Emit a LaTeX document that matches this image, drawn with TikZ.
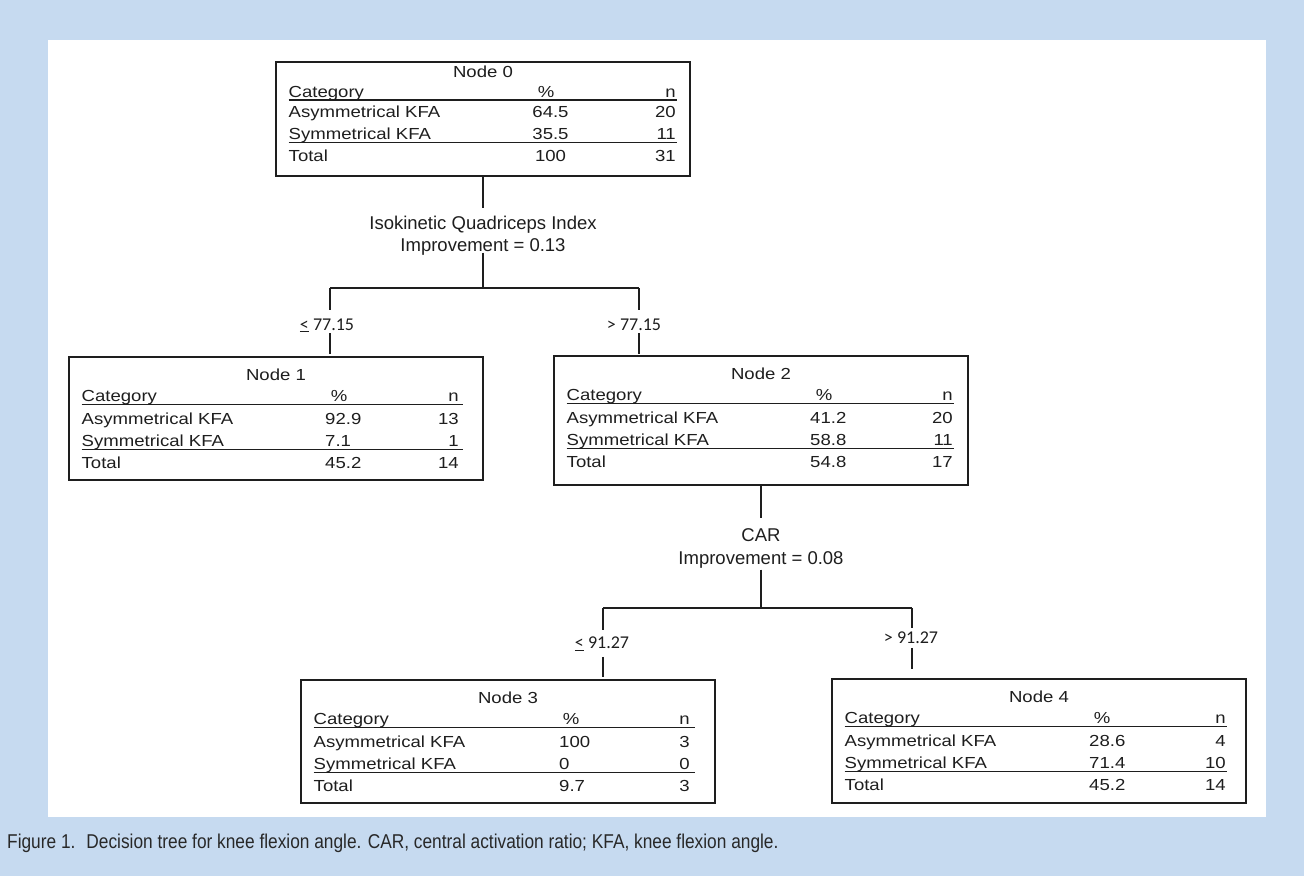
\documentclass[tikz,border=0pt]{standalone}
\usepackage{fontspec}
\setmainfont{Liberation Sans}
\newfontfamily\tabfont[FakeStretch=1.16]{Liberation Sans}
\newfontfamily\capfont[FakeStretch=0.865]{Liberation Sans}
\newfontfamily\condfont{Carlito}
\definecolor{bgblue}{RGB}{198,218,240}
\definecolor{ink}{RGB}{30,30,30}
\definecolor{capink}{RGB}{40,40,40}

\newcommand\TblOffsets[7]{\def\oT{#1}\def\oC{#2}\def\oU{#3}\def\oA{#4}\def\oS{#5}\def\oV{#6}\def\oX{#7}}
\newcommand\PctCenter[1]{\def\Pa{mid}\def\Px{#1}}
\newcommand\PctLeft[1]{\def\Pa{mid west}\def\Px{#1}}
\newcommand\TblBox[7]{\def\Tn{#1}\def\Tx{#2}\def\Ty{#3}\def\Th{#4}\def\Tt{#5}\def\Nr{#6}\def\Ur{#7}}
\newcommand\TblData[6]{%
  \begin{scope}[shift={(\Tx,\Ty)}]
    \node[frame, minimum height=\Th pt] (\Tn) at (0,0) {};
    \node[cell, anchor=mid] (\Tn-t) at (207,\oT) {\Tt};
    \node[cell, anchor=mid west] (\Tn-c) at (12.5,\oC) {Category};
    \node[cell, anchor=mid] (\Tn-p) at (270,\oC) {\%};
    \node[cell, anchor=mid east] (\Tn-n) at (\Nr,\oC) {n};
    \draw[rulel] (12.5,\oU) -- (\Ur,\oU);
    \node[cell, anchor=mid west] (\Tn-a) at (12.5,\oA) {Asymmetrical KFA};
    \node[cell, anchor=\Pa] (\Tn-ap) at (\Px,\oA) {#1};
    \node[cell, anchor=mid east] (\Tn-an) at (\Nr,\oA) {#2};
    \node[cell, anchor=mid west] (\Tn-s) at (12.5,\oS) {Symmetrical KFA};
    \node[cell, anchor=\Pa] (\Tn-sp) at (\Px,\oS) {#3};
    \node[cell, anchor=mid east] (\Tn-sn) at (\Nr,\oS) {#4};
    \draw[rulel] (12.5,\oV) -- (\Ur,\oV);
    \node[cell, anchor=mid west] (\Tn-x) at (12.5,\oX) {Total};
    \node[cell, anchor=\Pa] (\Tn-xp) at (\Px,\oX) {#5};
    \node[cell, anchor=mid east] (\Tn-xn) at (\Nr,\oX) {#6};
  \end{scope}}

\begin{document}
\begin{tikzpicture}[x=1pt,y=-1pt,
  frame/.style={draw=ink, line width=1.3pt, inner sep=0pt, outer sep=0pt, minimum width=414pt, anchor=north west},
  cell/.style={inner sep=0pt, text=ink, font=\tabfont\fontsize{16}{19}\selectfont},
  rulel/.style={draw=ink, line width=1.2pt},
  conn/.style={draw=ink, line width=1.1pt},
  splitlab/.style={inner sep=0pt, align=center, text=ink, anchor=north},
  condlab/.style={inner sep=0pt, text=ink, anchor=base, text height=11.5pt, text depth=2pt, font=\condfont\fontsize{18}{22}\selectfont},
  captext/.style={inner sep=0pt, text=capink, anchor=base west, font=\capfont\fontsize{20}{24}\selectfont}]
\useasboundingbox (0,0) rectangle (1304,876);
\fill[bgblue] (0,0) rectangle (1304,876);
\fill[white] (48,40) rectangle (1266,817);

% tables
\TblOffsets{13}{33}{38}{53}{74.5}{80.5}{97}
\PctCenter{274.5}
\TblBox{n0}{276}{62}{114}{Node 0}{400}{401}
\TblData{64.5}{20}{35.5}{11}{100}{31}

\TblOffsets{21}{41.5}{47.5}{64.5}{87}{92.5}{109}
\PctLeft{256}
\TblBox{n1}{69}{357}{123}{Node 1}{390}{394}
\TblData{92.9}{13}{7.1}{1}{45.2}{14}

\PctLeft{256}
\TblBox{n2}{554}{356}{129}{Node 2}{399}{400}
\TblData{41.2}{20}{58.8}{11}{54.8}{17}

\PctLeft{258}
\TblBox{n3}{301}{680}{123}{Node 3}{389}{394}
\TblData{100}{3}{0}{0}{9.7}{3}

\PctLeft{257}
\TblBox{n4}{832}{679}{124}{Node 4}{394}{395}
\TblData{28.6}{4}{71.4}{10}{45.2}{14}

% first split
\node[splitlab, font=\fontsize{18.5}{22}\selectfont] (s0) at (483,216) {Isokinetic Quadriceps Index\\Improvement = 0.13};
\coordinate (hl0) at (330,288);
\coordinate (hr0) at (639,288);
\draw[conn] (n0.south) -- ([yshift=8pt]s0.north);
\draw[conn] ([yshift=3pt]s0.south) -- (s0.south |- hl0);
\draw[conn] (hl0) -- (hr0);
\node[condlab] (c1) at (327,330) {\underline{<} 77.15};
\node[condlab] (c2) at (634,330) {> 77.15};
\draw[conn] (hl0) -- ([yshift=8.5pt]c1.north -| hl0);
\draw[conn] ([yshift=-1pt]c1.south -| hl0) -- ([yshift=3pt]hl0 |- n1.north);
\draw[conn] (hr0) -- ([yshift=8.5pt]c2.north -| hr0);
\draw[conn] ([yshift=-1pt]c2.south -| hr0) -- ([yshift=2pt]hr0 |- n2.north);

% second split
\node[splitlab, font=\fontsize{18.5}{23}\selectfont] (s1) at (761,528.5) {CAR\\Improvement = 0.08};
\coordinate (hl1) at (603,608);
\coordinate (hr1) at (912,608);
\draw[conn] (n2.south) -- ([yshift=11pt]s1.north);
\draw[conn] ([yshift=-1pt]s1.south) -- (s1.south |- hl1);
\draw[conn] (hl1) -- (hr1);
\node[condlab] (c3) at (602,648.7) {\underline{<} 91.27};
\node[condlab] (c4) at (911,643.7) {> 91.27};
\draw[conn] (hl1) -- ([yshift=7pt]c3.north -| hl1);
\draw[conn] ([yshift=-6pt]c3.south -| hl1) -- ([yshift=3pt]hl1 |- n3.north);
\draw[conn] (hr1) -- ([yshift=4pt]c4.north -| hr1);
\draw[conn] ([yshift=-2pt]c4.south -| hr1) -- ([yshift=10pt]hr1 |- n4.north);

% caption
\node[captext] (cap) at (7,848) {Figure 1.\hspace{0.55em}Decision tree for knee flexion angle. CAR, central activation ratio; KFA, knee flexion angle.};
\end{tikzpicture}
\end{document}
